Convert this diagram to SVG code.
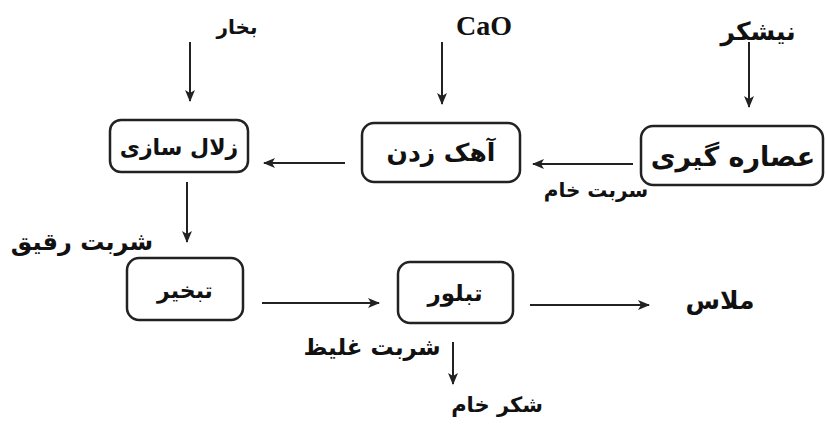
<svg xmlns="http://www.w3.org/2000/svg" width="826" height="426" viewBox="0 0 826 426">
<defs>
<marker id="ah" markerWidth="12" markerHeight="10" refX="11" refY="5" orient="auto" markerUnits="userSpaceOnUse">
<path d="M0,0 L12,5 L0,10 L3,5 Z" fill="#222"/>
</marker>
<style>
.box{fill:#fff;stroke:#222;stroke-width:2.5}
.t{font-family:"DejaVu Sans",sans-serif;font-weight:bold;font-size:20px;fill:#111;text-anchor:middle}
.lat{font-family:"Liberation Serif",serif;font-weight:bold;font-size:28px;fill:#111;text-anchor:middle}
.c{stroke:#222;stroke-width:2;fill:none;marker-end:url(#ah)}
</style>
</defs>
<rect width="826" height="426" fill="#fff"/>
<g id="connectors">
<line class="c" x1="190" y1="42" x2="190" y2="101"/>
<line class="c" x1="442" y1="42" x2="442" y2="104"/>
<line class="c" x1="749" y1="42" x2="749" y2="107"/>
<line class="c" x1="633" y1="164" x2="533" y2="164"/>
<line class="c" x1="345" y1="163" x2="264" y2="163"/>
<line class="c" x1="187" y1="182" x2="187" y2="242"/>
<line class="c" x1="262" y1="303" x2="379" y2="303"/>
<line class="c" x1="530" y1="305" x2="649" y2="305"/>
<line class="c" x1="453" y1="342" x2="453" y2="384"/>
</g>
<g id="label-bokhar"><text class="t" x="237" y="34" style="font-size:20px">بخار</text></g>
<g id="label-cao"><text class="lat" x="484" y="35">CaO</text></g>
<g id="label-neyshekar"><text class="t" x="758" y="40" style="font-size:25px">نیشکر</text></g>
<g id="node-zolal"><rect class="box" x="110" y="120" width="138" height="52" rx="11"/><text class="t" x="179" y="155" style="font-size:22px">زلال سازی</text></g>
<g id="node-ahak"><rect class="box" x="362" y="123" width="158" height="59" rx="12"/><text class="t" x="441" y="161" style="font-size:25px">آهک زدن</text></g>
<g id="node-osare"><rect class="box" x="641" y="126" width="182" height="59" rx="12"/><text class="t" x="733" y="166" style="font-size:27px">عصاره گیری</text></g>
<g id="label-sharbat-kham"><text class="t" x="596" y="197">سربت خام</text></g>
<g id="label-sharbat-raghigh"><text class="t" x="82" y="250" style="font-size:24px">شربت رقیق</text></g>
<g id="node-tabkhir"><rect class="box" x="127" y="258" width="116" height="62" rx="12"/><text class="t" x="185" y="298" style="font-size:22px">تبخیر</text></g>
<g id="node-tabalvor"><rect class="box" x="398" y="262" width="115" height="61" rx="12"/><text class="t" x="455" y="301" style="font-size:23px">تبلور</text></g>
<g id="label-melas"><text class="t" x="720" y="309" style="font-size:25px">ملاس</text></g>
<g id="label-sharbat-ghaliz"><text class="t" x="372" y="355" style="font-size:23px">شربت غلیظ</text></g>
<g id="label-shekar-kham"><text class="t" x="497" y="412" style="font-size:21px">شکر خام</text></g>
</svg>
